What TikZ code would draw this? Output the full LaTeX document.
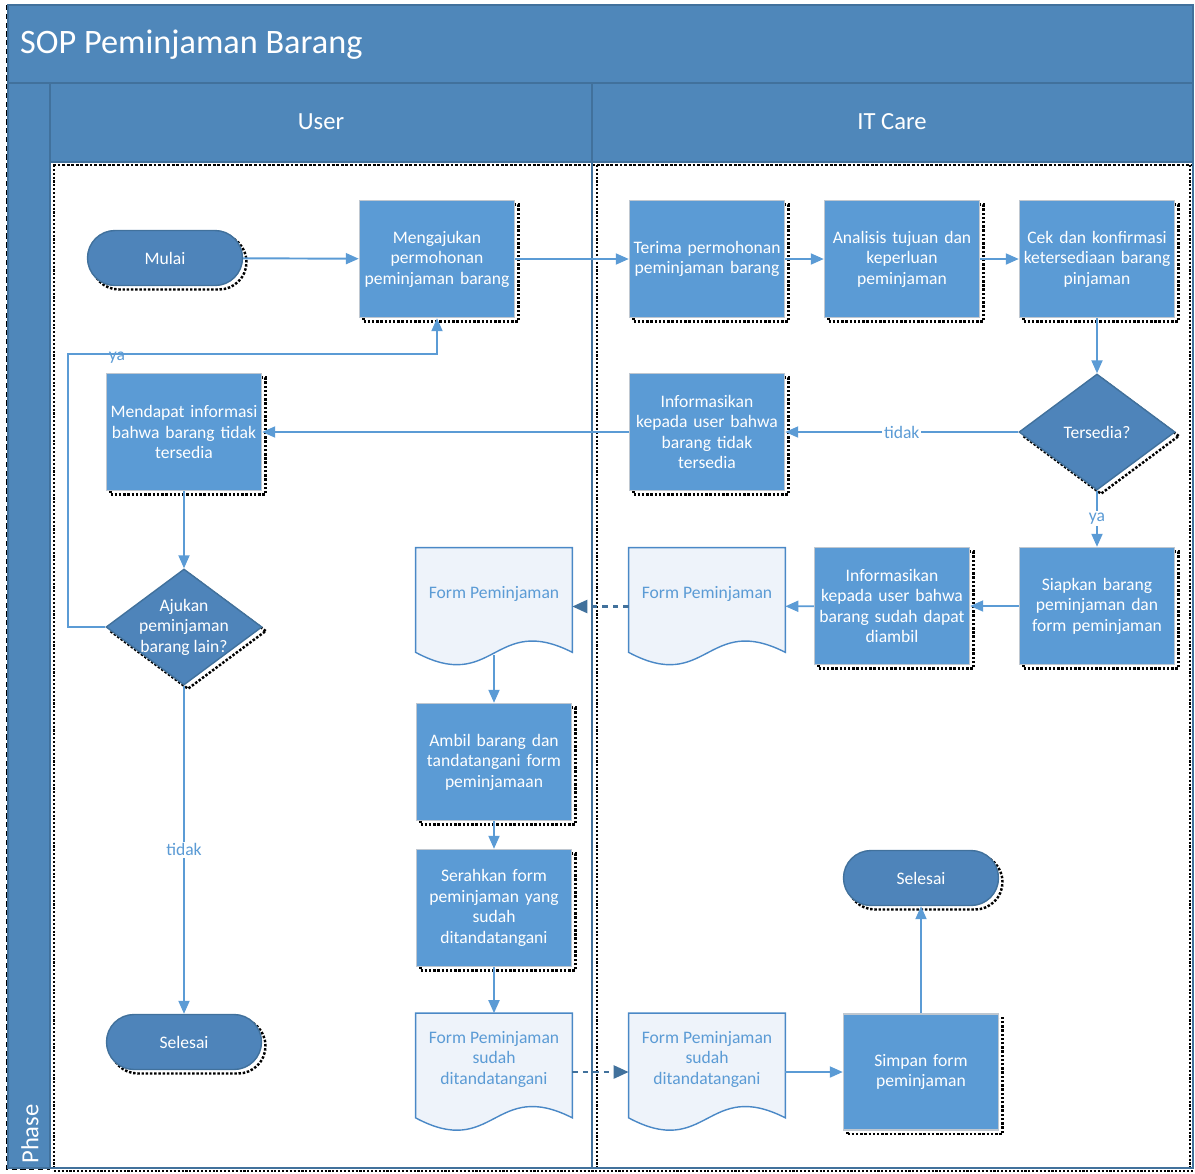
\documentclass[tikz,border=0pt]{standalone}
\usepackage{fontspec}
\setmainfont{Carlito}
\usetikzlibrary{arrows.meta, positioning, calc, shapes.geometric, shadows}

\definecolor{laneblue}{HTML}{4F87BA}
\definecolor{laneline}{HTML}{41719C}
\definecolor{procfill}{HTML}{5B9BD5}
\definecolor{procedge}{HTML}{BFC7D0}
\definecolor{termfill}{HTML}{4E84BA}
\definecolor{termedge}{HTML}{41719C}
\definecolor{flowline}{HTML}{5B9BD5}
\definecolor{dashline}{HTML}{41719C}
\definecolor{docedge}{HTML}{4A88C6}
\definecolor{docshade}{HTML}{EEF3FA}
\definecolor{doctext}{HTML}{5B9BD5}

% document shape: name, x, y, text
\newcommand{\formdoc}[4]{%
  \node[docnode] (#1) at (#2,#3) {};
  \draw[docline] (#1.north west) -- (#1.north east) -- ($(#1.south east)+(0,-13)$)
    .. controls ($(#1.south)+(0,-53)$) and ($(#1.south)+(0,29)$) .. ($(#1.south west)+(0,-13)$) -- cycle;
  \node[doctxt] (#1-t) at ($(#1.north)+(0,46)$) {#4};
}

\begin{document}
\begin{tikzpicture}[x=0.2mm, y=-0.2mm,
  every node/.style={font=\fontsize{10}{11.7}\selectfont},
  castshadow/.style={general shadow={draw=black, fill=none, densely dotted, line width=1.4pt, shadow xshift=0.8mm, shadow yshift=-0.8mm}},
  proc/.style={draw=procedge, line width=0.8pt, fill=procfill, text=white, minimum width=31mm, minimum height=23.4mm, text width=30mm, align=center, inner sep=0.5mm, castshadow},
  term/.style={draw=termedge, line width=0.8pt, fill=termfill, text=white, rounded corners=5.5mm, minimum width=31mm, minimum height=11mm, castshadow},
  decide/.style={diamond, draw=termedge, line width=0.8pt, fill=termfill, minimum width=31.2mm, minimum height=23.2mm, inner sep=0pt, castshadow},
  docnode/.style={minimum width=31.2mm, minimum height=23.4mm, inner sep=0pt},
  docline/.style={draw=docedge, line width=0.8pt, fill=docshade},
  doctxt/.style={text=doctext, align=center},
  lbl/.style={text=flowline, fill=white, inner sep=1pt},
  flow/.style={draw=flowline, line width=1.1pt, -{Triangle[length=2.6mm, width=2.2mm]}},
  dflow/.style={draw=dashline, line width=1.4pt, dashed, -{Triangle[length=3mm, width=2.6mm]}},
  lanetext/.style={text=white, font=\fontsize{14}{16}\selectfont}
]
\useasboundingbox (0,0) rectangle (1195,1173);

% pool and lanes
\fill[laneblue] (8,5) rectangle (1193,83);
\fill[laneblue] (8,83) rectangle (50,1168);
\fill[laneblue] (50,83) rectangle (1193,162);
\draw[black, densely dotted, line width=1.6pt] (53,165) -- (1193,165);
\draw[black, densely dotted, line width=1.2pt] (54,165) -- (54,1168) (597,165) -- (597,1168) (1190,165) -- (1190,1168) (54,1171) -- (1193,1171);
\draw[black, densely dashed, line width=0.6pt] (7,5) -- (7,1169) -- (50,1169);
\draw[laneline, line width=0.8pt] (8,5) rectangle (1193,1168) (8,83) -- (1193,83) (50,83) -- (50,1168) (50,162) -- (1193,162) (592,83) -- (592,1168);
\node[anchor=west, text=white, font=\fontsize{19.5}{24}\selectfont] (title) at (14,45) {SOP Peminjaman Barang};
\node[lanetext] (userlane) at (321,122) {User};
\node[lanetext] (itlane) at (892,122) {IT Care};
\node[lanetext, rotate=90] (phase) at (30,1134) {Phase};

% user lane
\node[term] (mulai) at (165,258) {Mulai};
\node[proc] (ajukanReq) at (437,259) {Mengajukan\\permohonan\\peminjaman barang};
\node[proc] (mendapat) at (184,432) {Mendapat informasi\\bahwa barang tidak\\tersedia};
\node[decide, label={[text=white, align=center]center:Ajukan\\peminjaman\\barang lain?}] (ajukanLain) at (184,627) {};
\node[term] (selesaiU) at (184,1042) {Selesai};
\formdoc{formUser}{494}{606.5}{Form Peminjaman}
\node[proc] (ambil) at (494,762) {Ambil barang dan\\tandatangani form\\peminjamaan};
\node[proc] (serahkan) at (494,908) {Serahkan form\\peminjaman yang\\sudah\\ditandatangani};
\formdoc{signUser}{494}{1072}{Form Peminjaman\\sudah\\ditandatangani}

% it care lane
\node[proc] (terima) at (707,259) {Terima permohonan\\peminjaman barang};
\node[proc] (analisis) at (902,259) {Analisis tujuan dan\\keperluan\\peminjaman};
\node[proc] (cek) at (1097,259) {Cek dan konfirmasi\\ketersediaan barang\\pinjaman};
\node[decide, label={[text=white]center:Tersedia?}] (tersedia) at (1097,432) {};
\node[proc] (infoTidak) at (707,432) {Informasikan\\kepada user bahwa\\barang tidak\\tersedia};
\node[proc] (siapkan) at (1097,606) {Siapkan barang\\peminjaman dan\\form peminjaman};
\node[proc] (infoSudah) at (892,606) {Informasikan\\kepada user bahwa\\barang sudah dapat\\diambil};
\formdoc{formIT}{707}{606.5}{Form Peminjaman}
\formdoc{signIT}{707}{1072}{Form Peminjaman\\sudah\\ditandatangani}
\node[proc, minimum height=23.2mm] (simpan) at (921,1072) {Simpan form\\peminjaman};
\node[term] (selesaiIT) at (921,878) {Selesai};

% connectors
\draw[flow] (mulai) -- (ajukanReq);
\draw[flow] (ajukanReq) -- (terima);
\draw[flow] (terima) -- (analisis);
\draw[flow] (analisis) -- (cek);
\draw[flow] (cek) -- (tersedia);
\draw[flow] (tersedia) -- node[lbl] {tidak} (infoTidak);
\draw[flow] (infoTidak) -- (mendapat);
\draw[flow] (mendapat) -- (ajukanLain);
\draw[flow] (ajukanLain) -- node[lbl] {tidak} (selesaiU);
\coordinate (loop) at (68,354);
\draw[flow] (ajukanLain.west) -| (loop) -| (ajukanReq.south);
\node[text=flowline, inner sep=0pt] (yaLoop) at (117,358) {ya};
\draw[flow] (tersedia) -- node[lbl] {ya} (siapkan);
\draw[flow] (siapkan) -- (infoSudah);
\draw[flow] (infoSudah) -- (formIT);
\draw[dflow] (formIT) -- (formUser);
\draw[flow] ($(formUser.south)+(0,-10)$) -- (ambil);
\draw[flow] (ambil) -- (serahkan);
\draw[flow] (serahkan) -- (signUser);
\draw[dflow] (signUser) -- (signIT);
\draw[flow] (signIT) -- (simpan);
\draw[flow] (simpan) -- (selesaiIT);
\end{tikzpicture}
\end{document}
